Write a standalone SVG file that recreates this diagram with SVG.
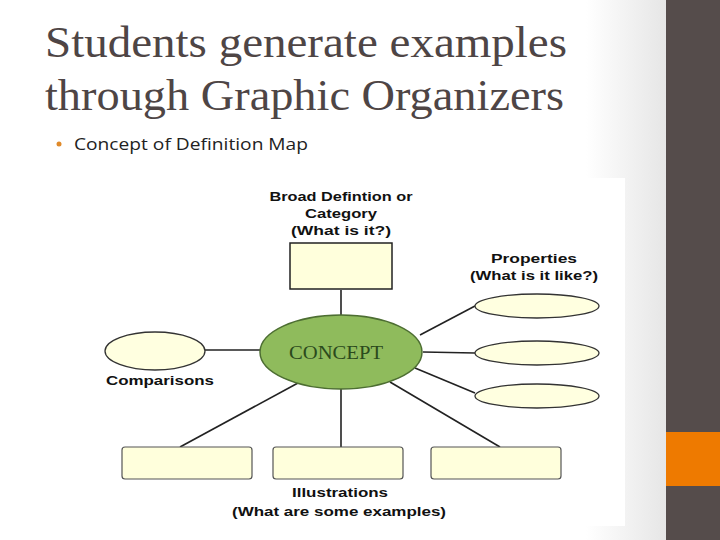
<svg xmlns="http://www.w3.org/2000/svg" width="720" height="540" viewBox="0 0 720 540">
<defs>
<linearGradient id="bg" x1="0" y1="0" x2="1" y2="0">
<stop offset="0" stop-color="#ffffff"/>
<stop offset="0.88" stop-color="#ffffff"/>
<stop offset="1" stop-color="#e6e6e6"/>
</linearGradient>
<style>
.lbl{font-family:"Liberation Sans",Arial,sans-serif;font-weight:bold;font-size:13.5px;fill:#111;text-anchor:middle}
.box{fill:#ffffdc;stroke:#222;stroke-width:1.5}
.bbox{fill:#ffffdc;stroke:#555;stroke-width:1.2}
.ell{fill:#ffffe0;stroke:#333;stroke-width:1.3}
.con line{stroke:#222;stroke-width:1.6}
</style>
</defs>
<rect x="0" y="0" width="666" height="540" fill="url(#bg)"/>
<rect x="100" y="178" width="525" height="348" fill="#ffffff"/>
<rect x="666" y="0" width="54" height="540" fill="#554c4b"/>
<rect x="666" y="432" width="54" height="54" fill="#ee7a00"/>
<g id="title" font-family="'Liberation Serif','Times New Roman',serif" font-size="44" fill="#4e4545">
<text x="45" y="57" textLength="522" lengthAdjust="spacingAndGlyphs">Students generate examples</text>
<text x="45" y="110" textLength="519" lengthAdjust="spacingAndGlyphs">through Graphic Organizers</text>
</g>
<g id="bullet">
<circle cx="59" cy="144" r="2.5" fill="#e08a2a"/>
<text x="74" y="150" font-family="'Open Sans','Liberation Sans',sans-serif" font-size="17" fill="#222" textLength="234" lengthAdjust="spacingAndGlyphs">Concept of Definition Map</text>
</g>
<g class="con" id="connectors">
<line x1="341" y1="290" x2="341" y2="315"/>
<line x1="205" y1="350" x2="260" y2="350"/>
<line x1="420" y1="335" x2="475" y2="306"/>
<line x1="423" y1="352" x2="475" y2="353"/>
<line x1="415" y1="368" x2="475" y2="393"/>
<line x1="298" y1="383" x2="180" y2="447"/>
<line x1="341" y1="389" x2="341" y2="447"/>
<line x1="390" y1="382" x2="500" y2="447"/>
</g>
<g id="category">
<rect class="box" x="290" y="243" width="102" height="46"/>
<text class="lbl" x="341" y="201" textLength="143" lengthAdjust="spacingAndGlyphs">Broad Defintion or</text>
<text class="lbl" x="341" y="218" textLength="72" lengthAdjust="spacingAndGlyphs">Category</text>
<text class="lbl" x="341" y="235" textLength="100" lengthAdjust="spacingAndGlyphs">(What is it?)</text>
</g>
<g id="concept">
<ellipse cx="341" cy="352" rx="81" ry="37" fill="#8fbb5c" stroke="#4d6e32" stroke-width="1.5"/>
<text x="336" y="359" font-family="'Liberation Serif','Times New Roman',serif" font-size="18" fill="#2b4a1c" text-anchor="middle" textLength="94" lengthAdjust="spacingAndGlyphs">CONCEPT</text>
</g>
<g id="comparisons">
<ellipse class="ell" cx="155" cy="351" rx="50" ry="19"/>
<text class="lbl" x="160" y="385" textLength="108" lengthAdjust="spacingAndGlyphs">Comparisons</text>
</g>
<g id="properties">
<text class="lbl" x="534" y="263" textLength="86" lengthAdjust="spacingAndGlyphs">Properties</text>
<text class="lbl" x="534" y="280" textLength="128" lengthAdjust="spacingAndGlyphs">(What is it like?)</text>
<ellipse class="ell" cx="537" cy="306" rx="62" ry="12"/>
<ellipse class="ell" cx="537" cy="353" rx="62" ry="12"/>
<ellipse class="ell" cx="537" cy="396" rx="62" ry="12"/>
</g>
<g id="illustrations">
<rect class="bbox" x="122" y="447" width="130" height="32" rx="3"/>
<rect class="bbox" x="273" y="447" width="130" height="32" rx="3"/>
<rect class="bbox" x="431" y="447" width="130" height="32" rx="3"/>
<text class="lbl" x="340" y="497" textLength="96" lengthAdjust="spacingAndGlyphs">Illustrations</text>
<text class="lbl" x="339" y="516" textLength="214" lengthAdjust="spacingAndGlyphs">(What are some examples)</text>
</g>
</svg>
